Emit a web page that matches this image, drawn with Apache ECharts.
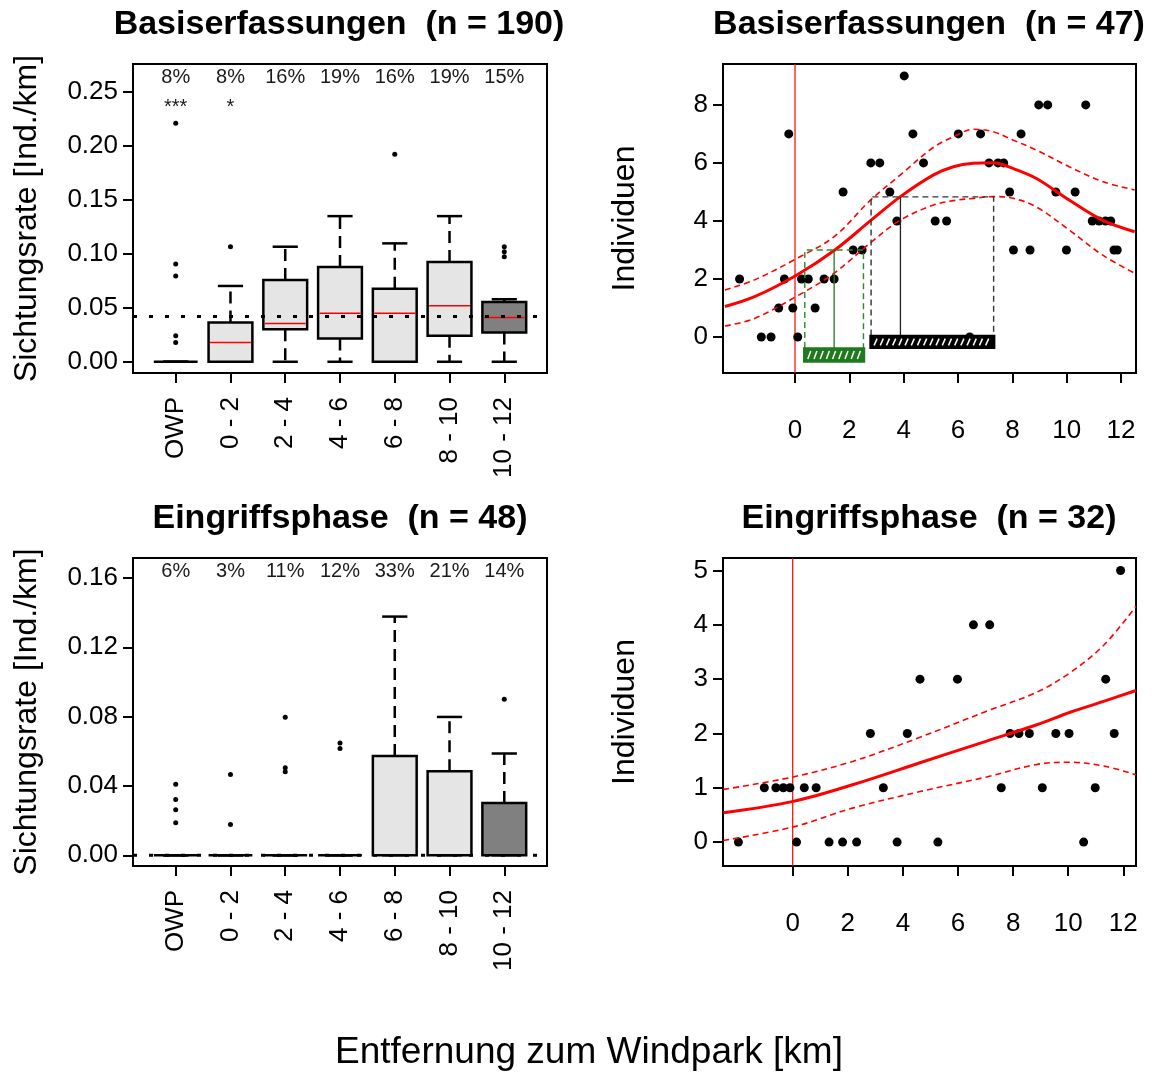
<!DOCTYPE html>
<html><head><meta charset="utf-8">
<script src="https://cdn.jsdelivr.net/npm/echarts@6/dist/echarts.min.js"></script>
<style>html,body{margin:0;padding:0;background:#fff}#c{width:1152px;height:1074px}</style>
</head><body><div id="c"></div>
<script>
// ---------- DATA ----------
const categories = ['OWP', '0 - 2', '2 - 4', '4 - 6', '6 - 8', '8 - 10', '10 - 12'];

// Basiserfassungen (n = 190): [lowerWhisker, q1, median, q3, upperWhisker]
const baseStats = [
  [0, 0, 0, 0, 0],
  [0, 0, 0.0178, 0.0363, 0.0701],
  [0, 0.0301, 0.0354, 0.0756, 0.1064],
  [0, 0.0215, 0.0449, 0.0876, 0.1347],
  [0, 0, 0.0449, 0.0676, 0.1095],
  [0, 0.024, 0.0517, 0.0922, 0.1347],
  [0, 0.027, 0.0409, 0.0553, 0.0578]
];
const baseOutliers = [
  [0.2207, 0.0904, 0.0793, 0.024, 0.0178],
  [0.1064], [], [], [0.1919], [], [0.1064, 0.1018, 0.0972]
];
const basePercent = ['8%', '8%', '16%', '19%', '16%', '19%', '15%'];
const baseStars = ['***', '*', '', '', '', '', ''];
const baseRefLevel = 0.0418;
const baseYTicks = [0, 0.05, 0.10, 0.15, 0.20, 0.25];

// Eingriffsphase (n = 48)
const eingStats = [
  [0, 0, 0, 0, 0],
  [0, 0, 0, 0, 0],
  [0, 0, 0, 0, 0],
  [0, 0, 0, 0, 0],
  [0, 0, 0, 0.0572, 0.1377],
  [0, 0, 0, 0.0485, 0.0798],
  [0, 0, 0, 0.0301, 0.0587]
];
const eingOutliers = [
  [0.0409, 0.0322, 0.0263, 0.0188],
  [0.0466, 0.0178],
  [0.0796, 0.0505, 0.0482],
  [0.0648, 0.0616],
  [], [], [0.09]
];
const eingPercent = ['6%', '3%', '11%', '12%', '33%', '21%', '14%'];
const eingRefLevel = 0;
const eingYTicks = [0, 0.04, 0.08, 0.12, 0.16];

// Basiserfassungen (n = 47): scatter
const trX = [-2.04,-1.24,-0.88,-0.23,-0.6,-0.08,-0.39,0.1,0.24,0.49,0.74,1.07,1.44,1.77,2.14,2.47,2.79,3.12,3.49,3.75,4.02,4.34,4.73,5.16,5.58,6.01,6.43,6.83,7.14,7.47,7.68,7.9,8.04,8.32,8.65,8.97,9.3,9.6,9.99,10.31,10.7,10.94,11.19,11.43,11.62,11.74,11.86];
const trY = [2,0,0,7,1,1,2,0,2,2,1,2,2,5,3,3,6,6,5,4,9,7,6,4,4,7,0,7,6,6,6,5,3,7,3,8,8,5,3,5,8,4,4,4,4,3,3];
const trCurveX = [-2.58,-1.49,0.07,1.44,2.78,3.88,5.1,5.83,6.56,7.29,8.02,8.87,10.09,11.31,12.5];
const trFit    = [1.05,1.39,2.14,2.98,4.01,4.84,5.59,5.87,5.99,6.01,5.81,5.47,4.72,4.03,3.63];
const trUpper  = [1.62,1.97,2.71,3.46,4.72,5.59,6.54,6.9,7.16,7.08,6.79,6.45,5.87,5.36,5.07];
const trLower  = [0.38,0.64,1.41,2.2,3.25,4.03,4.55,4.7,4.78,4.84,4.78,4.49,3.69,2.83,2.2];
// annotation ranges: [xFrom, xTo, xMark, yTop, barTop, barBottom]
const trRanges = [
  [0.36, 2.52, 1.44, 3.0, -0.38, -0.86],
  [2.8, 7.31, 3.88, 4.83, 0.05, -0.39]
];
const rightXTicks = [0, 2, 4, 6, 8, 10, 12];
const trYTicks = [0, 2, 4, 6, 8];

// Eingriffsphase (n = 32): scatter
const brX = [-1.97,-1.03,-0.61,-0.34,-0.1,0.14,0.42,0.85,1.32,1.81,2.32,2.82,3.29,3.79,4.16,4.62,5.27,5.98,6.56,7.15,7.57,7.89,8.21,8.59,9.06,9.55,10.03,10.56,10.98,11.36,11.67,11.9];
const brY = [0,1,1,1,1,0,1,1,0,0,0,2,1,0,2,3,0,3,4,4,1,2,2,2,1,2,2,0,1,3,2,5];
const brCurveX = [-2.52,0.02,2.2,4.62,7.04,8.86,10.07,11.28,12.46];
const brFit    = [0.54,0.75,1.06,1.46,1.86,2.16,2.39,2.59,2.79];
const brUpper  = [0.97,1.2,1.49,1.93,2.41,2.76,3.12,3.62,4.34];
const brLower  = [0.03,0.28,0.63,0.93,1.2,1.43,1.47,1.40,1.24];
const brYTicks = [0, 1, 2, 3, 4, 5];

// ---------- CHART ----------
const FF = '"Liberation Sans", Arial, sans-serif';
const chart = echarts.init(document.getElementById('c'), null, {renderer: 'canvas'});

const LX = {min: 0.22, max: 7.78};
const Y0 = {min: -0.0104, max: 0.2754};
const Y2 = {min: -0.0062, max: 0.1715};
const X1 = {min: -2.65, max: 12.55};
const Y1 = {min: -1.24, max: 9.41};
const X3 = {min: -2.53, max: 12.46};
const Y3 = {min: -0.44, max: 5.23};

function boxData(stats) {
  return stats.map((s, i) => [i + 1].concat(s));
}
function outlierData(outs) {
  const d = [];
  outs.forEach((arr, i) => arr.forEach(v => d.push([i + 1, v])));
  return d;
}
function renderBox(params, api) {
  const x = api.value(0);
  const lo = api.value(1), q1 = api.value(2), med = api.value(3), q3 = api.value(4), hi = api.value(5);
  const bw = 0.4, cw = 0.23;
  const L = api.coord([x - bw, 0])[0], R = api.coord([x + bw, 0])[0];
  const cL = api.coord([x - cw, 0])[0], cR = api.coord([x + cw, 0])[0];
  const xc = api.coord([x, 0])[0];
  const yLo = api.coord([x, lo])[1], yQ1 = api.coord([x, q1])[1], yMed = api.coord([x, med])[1];
  const yQ3 = api.coord([x, q3])[1], yHi = api.coord([x, hi])[1];
  const dark = params.dataIndex === categories.length - 1;
  const ch = [];
  const wStyle = {stroke: '#000', lineWidth: 2.5, lineDash: [12, 7]};
  if (yHi < yQ3 - 0.5) ch.push({type: 'line', shape: {x1: xc, y1: yQ3, x2: xc, y2: yHi}, style: wStyle});
  if (yLo > yQ1 + 0.5) ch.push({type: 'line', shape: {x1: xc, y1: yQ1, x2: xc, y2: yLo}, style: wStyle});
  ch.push({type: 'line', shape: {x1: cL, y1: yHi, x2: cR, y2: yHi}, style: {stroke: '#000', lineWidth: 2.5}});
  ch.push({type: 'line', shape: {x1: cL, y1: yLo, x2: cR, y2: yLo}, style: {stroke: '#000', lineWidth: 2.5}});
  ch.push({type: 'rect', shape: {x: L, y: yQ3, width: R - L, height: Math.max(yQ1 - yQ3, 0)},
    style: {fill: dark ? '#808080' : '#E5E5E5', stroke: '#000', lineWidth: 2.5}});
  if (med > q1 && med < q3) {
    ch.push({type: 'line', shape: {x1: L + 1.5, y1: yMed, x2: R - 1.5, y2: yMed}, style: {stroke: '#ff0000', lineWidth: 1.5}});
  }
  return {type: 'group', children: ch};
}
function textSeries(xi, yi, labels, stars, yTop) {
  const data = labels.map((t, i) => [i + 1, yTop, t, stars ? stars[i] : '']);
  return {
    type: 'custom', xAxisIndex: xi, yAxisIndex: yi, z: 5, silent: true,
    data: data,
    encode: {x: 0, y: 1},
    renderItem: function (params, api) {
      const p = api.coord([api.value(0), api.value(1)]);
      const d = data[params.dataIndex];
      const ch = [{type: 'text', style: {text: d[2], x: p[0], y: p[1] + 13, align: 'center', verticalAlign: 'middle',
        fontSize: 20, fontFamily: FF, fill: '#1a1a1a'}}];
      if (d[3]) ch.push({type: 'text', style: {text: d[3], x: p[0], y: p[1] + 43, align: 'center', verticalAlign: 'middle',
        fontSize: 20, fontFamily: FF, fill: '#1a1a1a'}});
      return {type: 'group', children: ch};
    }
  };
}
function renderRange(params, api) {
  const x0 = api.value(0), x1 = api.value(1), xm = api.value(2), top = api.value(3), bt = api.value(4), bb = api.value(5);
  const green = params.dataIndex === 0;
  const col = green ? '#1f7a1f' : '#000';
  const dashCol = green ? '#2a8a2a' : '#333';
  const a = api.coord([x0, top]), b = api.coord([x1, bt]), m = api.coord([xm, top]);
  const c = api.coord([x1, bb]);
  const ch = [];
  ch.push({type: 'polyline', shape: {points: [[a[0], b[1]], [a[0], a[1]], [b[0], a[1]], [b[0], b[1]]]},
    style: {stroke: dashCol, lineWidth: 1.4, lineDash: [6, 4], fill: null}});
  ch.push({type: 'line', shape: {x1: m[0], y1: m[1], x2: m[0], y2: b[1]}, style: {stroke: green ? col : '#222', lineWidth: 1.3}});
  ch.push({type: 'rect', shape: {x: a[0] - 1, y: b[1], width: b[0] - a[0] + 2, height: c[1] - b[1]},
    style: {fill: col, stroke: col, lineWidth: 1.5}});
  for (let x = a[0] + 3; x < b[0] - 3; x += 6.2) {
    ch.push({type: 'line', shape: {x1: x, y1: c[1] - 3, x2: x + 3, y2: b[1] + 3}, style: {stroke: '#fff', lineWidth: 1.5}});
  }
  return {type: 'group', children: ch};
}
function xy(xs, ys) { return xs.map((x, i) => [x, ys[i]]); }

const gridBase = {show: true, borderColor: '#000', borderWidth: 2, backgroundColor: '#fff', containLabel: false};
const tickStyle = {show: true, length: 10, lineStyle: {color: '#000', width: 2}};
const labStyle = {color: '#000', fontSize: 26, fontFamily: FF};

function xAx(gi, rng, ticks, left) {
  return {
    type: 'value', gridIndex: gi, min: rng.min, max: rng.max,
    axisLine: {show: false, onZero: false}, splitLine: {show: false},
    axisTick: Object.assign({customValues: ticks}, tickStyle),
    axisLabel: Object.assign({customValues: ticks, margin: left ? 24 : 45, rotate: left ? 90 : 0,
      formatter: left ? (v => categories[Math.round(v) - 1]) : (v => String(v))}, labStyle)
  };
}
function yAx(gi, rng, ticks, name, gap, dec) {
  return {
    type: 'value', gridIndex: gi, min: rng.min, max: rng.max,
    name: name, nameLocation: 'middle', nameRotate: 90, nameGap: gap,
    nameTextStyle: {fontSize: 32, fontFamily: FF, color: '#000'},
    axisLine: {show: false, onZero: false}, splitLine: {show: false},
    axisTick: Object.assign({customValues: ticks}, tickStyle),
    axisLabel: Object.assign({customValues: ticks, margin: 15,
      formatter: v => dec ? v.toFixed(2) : String(v)}, labStyle)
  };
}
const lineCommon = {showSymbol: false, smooth: 0.35, silent: true, z: 4};

const option = {
  animation: false,
  backgroundColor: '#fff',
  grid: [
    Object.assign({left: 133, top: 64, width: 414, height: 309}, gridBase),
    Object.assign({left: 723, top: 64, width: 413, height: 309}, gridBase),
    Object.assign({left: 133, top: 558, width: 414, height: 308}, gridBase),
    Object.assign({left: 723, top: 558, width: 413, height: 308}, gridBase)
  ],
  xAxis: [
    xAx(0, LX, [1, 2, 3, 4, 5, 6, 7], true),
    xAx(1, X1, rightXTicks, false),
    xAx(2, LX, [1, 2, 3, 4, 5, 6, 7], true),
    xAx(3, X3, rightXTicks, false)
  ],
  yAxis: [
    yAx(0, Y0, baseYTicks, 'Sichtungsrate [Ind./km]', 90, true),
    yAx(1, Y1, trYTicks, 'Individuen', 82, false),
    yAx(2, Y2, eingYTicks, 'Sichtungsrate [Ind./km]', 90, true),
    yAx(3, Y3, brYTicks, 'Individuen', 82, false)
  ],
  graphic: [
    {type: 'text', x: 339, y: 25, style: {text: 'Basiserfassungen  (n = 190)', align: 'center', verticalAlign: 'middle', font: 'bold 34px ' + FF, fill: '#000'}},
    {type: 'text', x: 929, y: 25, style: {text: 'Basiserfassungen  (n = 47)', align: 'center', verticalAlign: 'middle', font: 'bold 34px ' + FF, fill: '#000'}},
    {type: 'text', x: 340, y: 519, style: {text: 'Eingriffsphase  (n = 48)', align: 'center', verticalAlign: 'middle', font: 'bold 34px ' + FF, fill: '#000'}},
    {type: 'text', x: 929, y: 519, style: {text: 'Eingriffsphase  (n = 32)', align: 'center', verticalAlign: 'middle', font: 'bold 34px ' + FF, fill: '#000'}},
    {type: 'text', x: 589, y: 1053, style: {text: 'Entfernung zum Windpark [km]', align: 'center', verticalAlign: 'middle', font: '37px ' + FF, fill: '#000'}}
  ],
  series: [
    // top-left
    {type: 'line', xAxisIndex: 0, yAxisIndex: 0, data: [[LX.min, baseRefLevel], [LX.max, baseRefLevel]], showSymbol: false, z: 1,
      lineStyle: {color: '#000', width: 3, type: [4, 12]}, silent: true},
    {type: 'custom', xAxisIndex: 0, yAxisIndex: 0, data: boxData(baseStats), encode: {x: 0, y: [1, 2, 3, 4, 5]}, renderItem: renderBox, z: 2, silent: true},
    {type: 'line', xAxisIndex: 0, yAxisIndex: 0, data: [[LX.min, baseRefLevel], [LX.max, baseRefLevel]], showSymbol: false, z: 3,
      lineStyle: {color: '#000', width: 3, type: [4, 12]}, silent: true},
    {type: 'scatter', xAxisIndex: 0, yAxisIndex: 0, data: outlierData(baseOutliers), symbolSize: 5, itemStyle: {color: '#000', opacity: 1}, z: 4, silent: true},
    textSeries(0, 0, basePercent, baseStars, Y0.max),
    // bottom-left
    {type: 'custom', xAxisIndex: 2, yAxisIndex: 2, data: boxData(eingStats), encode: {x: 0, y: [1, 2, 3, 4, 5]}, renderItem: renderBox, z: 2, silent: true},
    {type: 'line', xAxisIndex: 2, yAxisIndex: 2, data: [[LX.min, eingRefLevel], [LX.max, eingRefLevel]], showSymbol: false, z: 1,
      lineStyle: {color: '#000', width: 3, type: [4, 12]}, silent: true},
    {type: 'scatter', xAxisIndex: 2, yAxisIndex: 2, data: outlierData(eingOutliers), symbolSize: 5, itemStyle: {color: '#000', opacity: 1}, z: 4, silent: true},
    textSeries(2, 2, eingPercent, null, Y2.max),
    // top-right
    {type: 'line', xAxisIndex: 1, yAxisIndex: 1, data: [[0, Y1.min], [0, Y1.max]], showSymbol: false, lineStyle: {color: '#ff0000', width: 1.2}, z: 2, silent: true},
    {type: 'scatter', xAxisIndex: 1, yAxisIndex: 1, data: xy(trX, trY), symbolSize: 9, itemStyle: {color: '#000', opacity: 1}, z: 3, silent: true},
    Object.assign({type: 'line', xAxisIndex: 1, yAxisIndex: 1, data: xy(trCurveX, trFit), lineStyle: {color: '#ff0000', width: 3}}, lineCommon),
    Object.assign({type: 'line', xAxisIndex: 1, yAxisIndex: 1, data: xy(trCurveX, trUpper), lineStyle: {color: '#ff0000', width: 1.6, type: [6, 4]}}, lineCommon),
    Object.assign({type: 'line', xAxisIndex: 1, yAxisIndex: 1, data: xy(trCurveX, trLower), lineStyle: {color: '#ff0000', width: 1.6, type: [6, 4]}}, lineCommon),
    {type: 'custom', xAxisIndex: 1, yAxisIndex: 1, data: trRanges, encode: {x: [0, 1], y: [3, 5]}, renderItem: renderRange, z: 5, silent: true},
    // bottom-right
    {type: 'line', xAxisIndex: 3, yAxisIndex: 3, data: [[0, Y3.min], [0, Y3.max]], showSymbol: false, lineStyle: {color: '#ff0000', width: 1.2}, z: 2, silent: true},
    {type: 'scatter', xAxisIndex: 3, yAxisIndex: 3, data: xy(brX, brY), symbolSize: 9, itemStyle: {color: '#000', opacity: 1}, z: 3, silent: true},
    Object.assign({type: 'line', xAxisIndex: 3, yAxisIndex: 3, data: xy(brCurveX, brFit), lineStyle: {color: '#ff0000', width: 3}}, lineCommon),
    Object.assign({type: 'line', xAxisIndex: 3, yAxisIndex: 3, data: xy(brCurveX, brUpper), lineStyle: {color: '#ff0000', width: 1.6, type: [6, 4]}}, lineCommon),
    Object.assign({type: 'line', xAxisIndex: 3, yAxisIndex: 3, data: xy(brCurveX, brLower), lineStyle: {color: '#ff0000', width: 1.6, type: [6, 4]}}, lineCommon)
  ]
};
chart.setOption(option);
</script></body></html>
